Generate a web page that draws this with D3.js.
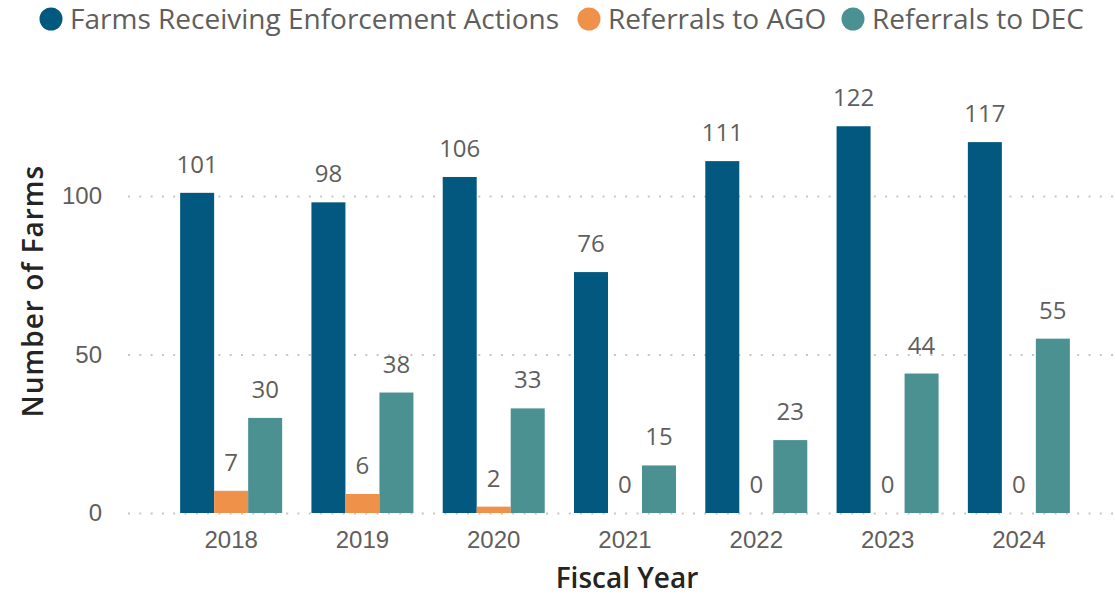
<!DOCTYPE html>
<html>
<head>
<meta charset="utf-8">
<script src="https://cdn.jsdelivr.net/npm/d3@7"></script>
<style>
  body { margin: 0; background: #fff; }
  svg { font-family: "Open Sans", sans-serif; }
</style>
</head>
<body>
<div id="chart"></div>
<script>
const years = ["2018", "2019", "2020", "2021", "2022", "2023", "2024"];
const seriesNames = ["Farms Receiving Enforcement Actions", "Referrals to AGO", "Referrals to DEC"];
const enforcement = [101, 98, 106, 76, 111, 122, 117];
const referralsAGO = [7, 6, 2, 0, 0, 0, 0];
const referralsDEC = [30, 38, 33, 15, 23, 44, 55];
const yTicks = [0, 50, 100];
const colors = ["#03587f", "#f0914a", "#4b9192"];

const width = 1115, height = 596;

const svg = d3.select("#chart").append("svg")
    .attr("width", width)
    .attr("height", height);

// scales
const x = d3.scaleBand()
    .domain(years)
    .range([165.5, 1084.5])
    .paddingInner(0.223)
    .paddingOuter(0.1115);

const xInner = d3.scaleBand()
    .domain(seriesNames)
    .range([0, x.bandwidth()]);

const y = d3.scaleLinear()
    .domain([0, 100])
    .range([513, 196]);

const color = d3.scaleOrdinal().domain(seriesNames).range(colors);

// gridlines + y labels
const yAxis = d3.axisLeft(y)
    .tickValues(yTicks)
    .tickSize(-(1115 - 128))
    .tickPadding(26);

svg.append("g")
    .attr("class", "y-axis")
    .attr("transform", "translate(128,0)")
    .call(yAxis)
    .call(g => g.select(".domain").remove())
    .call(g => g.selectAll(".tick line")
        .attr("stroke", "#c8c6c4")
        .attr("stroke-width", 2)
        .attr("stroke-dasharray", "2,9.3"))
    .call(g => g.selectAll(".tick text")
        .attr("fill", "#605e5c")
        .style("font-size", "24px"));

// x axis
const xAxis = d3.axisBottom(x).tickSize(0).tickPadding(18);
svg.append("g")
    .attr("class", "x-axis")
    .attr("transform", "translate(0,513)")
    .call(xAxis)
    .call(g => g.select(".domain").remove())
    .call(g => g.selectAll(".tick text")
        .attr("fill", "#605e5c")
        .style("font-size", "24px"));

// bars
const data = years.map((yr, i) => ({
  year: yr,
  values: [enforcement[i], referralsAGO[i], referralsDEC[i]]
}));

const groups = svg.append("g").selectAll(".group")
    .data(data)
    .join("g")
    .attr("class", "group")
    .attr("transform", d => `translate(${x(d.year)},0)`);

groups.selectAll("rect")
    .data(d => d.values.map((v, j) => ({key: seriesNames[j], value: v})))
    .join("rect")
    .attr("x", d => xInner(d.key))
    .attr("y", d => y(d.value))
    .attr("width", xInner.bandwidth())
    .attr("height", d => y(0) - y(d.value))
    .attr("fill", d => color(d.key));

groups.selectAll(".label")
    .data(d => d.values.map((v, j) => ({key: seriesNames[j], value: v})))
    .join("text")
    .attr("class", "label")
    .attr("x", d => xInner(d.key) + xInner.bandwidth() / 2)
    .attr("y", d => y(d.value) - 20)
    .attr("text-anchor", "middle")
    .attr("fill", "#605e5c")
    .style("font-size", "24px")
    .text(d => d.value);

// axis titles
svg.append("text")
    .attr("transform", "translate(43,291) rotate(-90)")
    .attr("text-anchor", "middle")
    .attr("fill", "#252423")
    .style("font-size", "28px")
    .style("font-weight", 600)
    .style("letter-spacing", "1px")
    .text("Number of Farms");

svg.append("text")
    .attr("x", 627)
    .attr("y", 588)
    .attr("text-anchor", "middle")
    .attr("fill", "#252423")
    .style("font-size", "28px")
    .style("font-weight", 600)
    .text("Fiscal Year");

// legend
const legendPos = [51, 589, 853];
const legend = svg.append("g").attr("class", "legend");
const legendItem = legend.selectAll(".legend-item")
    .data(seriesNames)
    .join("g")
    .attr("class", "legend-item")
    .attr("transform", (d, i) => `translate(${legendPos[i]},19)`);

legendItem.append("circle")
    .attr("r", 11.5)
    .attr("fill", d => color(d));

legendItem.append("text")
    .attr("x", 19)
    .attr("dy", "0.35em")
    .attr("fill", "#605e5c")
    .style("font-size", "28px")
    .text(d => d);
</script>
</body>
</html>
